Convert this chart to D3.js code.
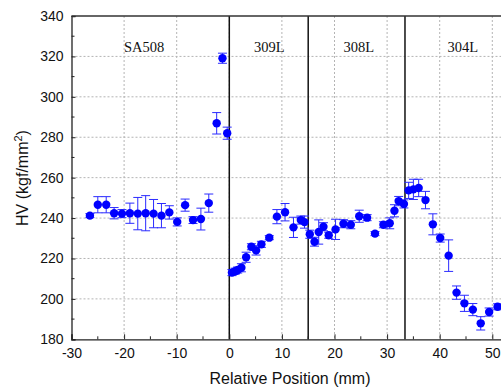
<!DOCTYPE html>
<html>
<head>
<meta charset="utf-8">
<script src="https://cdn.jsdelivr.net/npm/d3@7"></script>
<style>
  html, body { margin: 0; padding: 0; background: #fff; overflow: hidden; }
  svg { display: block; }
</style>
</head>
<body>
<svg id="chart" width="501" height="388"></svg>
<script>
// Microhardness traverse across the weld (SA508 / 309L / 308L / 304L)
const position = [
  -26.5, -25.0, -23.4, -21.9, -20.4, -18.9, -17.4, -15.9, -14.4, -12.9, -11.4, -9.9, -8.4, -6.9, -5.4, -3.9, -2.4, -1.3, -0.4,
  0.5, 1.1, 1.6, 2.3, 3.2, 4.2, 5.1, 6.1, 7.6, 9.05, 10.6, 12.2, 13.6, 14.3,
  15.3, 16.2, 17.0, 17.9, 18.9, 20.2, 21.7, 23.1, 24.7, 26.2, 27.7, 29.3, 30.5, 31.4, 32.2, 33.2,
  34.1, 35.0, 36.0, 37.3, 38.7, 40.1, 41.7, 43.2, 44.7, 46.3, 47.8, 49.4, 51.0
];
const hardness = [
  241.2, 246.6, 246.6, 242.4, 242.2, 242.4, 242.2, 242.4, 242.2, 241.2, 242.8, 238.1, 246.4, 239.0, 239.5, 247.4, 286.9, 319.1, 282.0,
  213.0, 213.7, 214.3, 215.4, 220.6, 225.8, 224.0, 227.0, 230.3, 240.7, 242.9, 235.4, 239.0, 238.0,
  232.0, 228.3, 233.1, 235.7, 231.5, 234.4, 237.2, 236.7, 240.9, 240.2, 232.3, 236.7, 237.4, 243.6, 248.4, 247.0,
  253.7, 254.2, 254.9, 248.9, 236.9, 230.1, 221.4, 203.1, 197.8, 194.7, 187.9, 193.5, 196.1
];
const hardnessErr = [
  1.0, 4.0, 4.0, 2.8, 2.0, 5.0, 8.0, 8.7, 7.0, 6.0, 3.3, 2.0, 3.0, 1.7, 5.4, 4.5, 5.3, 2.5, 3.0,
  1.5, 1.5, 1.5, 2.0, 2.5, 1.5, 2.3, 1.5, 1.0, 3.5, 4.3, 5.0, 2.0, 3.0,
  2.0, 2.2, 6.0, 2.0, 1.5, 5.0, 2.0, 2.0, 3.0, 1.5, 1.0, 1.5, 2.7, 3.0, 2.3, 2.0,
  4.0, 5.0, 4.3, 4.3, 5.2, 2.0, 7.8, 3.3, 4.0, 3.0, 3.3, 2.0, 1.5
];

// Zone boundaries (mm) and zone names
const boundaries = [0, 15, 33.4];
const zoneNames = ["SA508", "309L", "308L", "304L"];
const zoneLabelX = [-16.2, 7.6, 24.6, 44.4];

const xTicks = [-30, -20, -10, 0, 10, 20, 30, 40, 50];
const xMinorTicks = [-25, -15, -5, 5, 15, 25, 35, 45];
const yTicks = [180, 200, 220, 240, 260, 280, 300, 320, 340];
const yMinorTicks = [190, 210, 230, 250, 270, 290, 310, 330];

const svg = d3.select("#chart");
const plotLeft = 71.5, plotTop = 16, plotBottom = 339.3;

const x = d3.scaleLinear().domain([-30, 55]).range([plotLeft, plotLeft + 85 * 5.26]);
const y = d3.scaleLinear().domain([180, 340]).range([plotBottom, plotTop]);
const plotRight = x(55);

// grid
const grid = svg.append("g").attr("stroke", "#b4b4b4").attr("stroke-width", 1).attr("stroke-dasharray", "2,2");
xTicks.filter(t => t > -30).forEach(t => {
  grid.append("line").attr("x1", x(t)).attr("x2", x(t)).attr("y1", plotTop).attr("y2", plotBottom);
});
yTicks.filter(t => t > 180 && t < 340).forEach(t => {
  grid.append("line").attr("x1", plotLeft).attr("x2", plotRight).attr("y1", y(t)).attr("y2", y(t));
});

// zone boundary lines
svg.append("g").selectAll("line").data(boundaries).join("line")
  .attr("x1", d => x(d)).attr("x2", d => x(d))
  .attr("y1", plotTop).attr("y2", plotBottom)
  .attr("stroke", "#111").attr("stroke-width", 1.5);

// axes
const xAxis = d3.axisBottom(x).tickValues(xTicks).tickSize(-5).tickPadding(9).tickFormat(d3.format("d"));
const gx = svg.append("g").attr("transform", `translate(0,${plotBottom})`).call(xAxis);
gx.append("g").selectAll("line").data(xMinorTicks).join("line")
  .attr("x1", d => x(d)).attr("x2", d => x(d)).attr("y1", 0).attr("y2", -3).attr("stroke", "#222");

const yAxis = d3.axisLeft(y).tickValues(yTicks).tickSize(-4).tickPadding(8).tickFormat(d3.format("d"));
const gy = svg.append("g").attr("transform", `translate(${plotLeft},0)`).call(yAxis);
gy.append("g").selectAll("line").data(yMinorTicks).join("line")
  .attr("x1", 0).attr("x2", 3).attr("y1", d => y(d)).attr("y2", d => y(d)).attr("stroke", "#222");

[gx, gy].forEach(g => {
  g.select(".domain").attr("stroke", "#222").attr("stroke-width", 1.3);
  g.selectAll(".tick line").attr("stroke", "#222");
  g.selectAll("text").attr("font-family", "Liberation Sans, Arial, sans-serif").attr("font-size", 14).attr("fill", "#111");
});
gx.selectAll(".tick text").text(d => d < 0 ? "-" + Math.abs(d) : d);

// top frame line
svg.append("line").attr("x1", plotLeft).attr("x2", plotRight).attr("y1", plotTop).attr("y2", plotTop)
  .attr("stroke", "#333").attr("stroke-width", 1.5);

// zone labels
svg.append("g").selectAll("text").data(zoneNames).join("text")
  .attr("x", (d, i) => x(zoneLabelX[i])).attr("y", 51.5)
  .attr("text-anchor", "middle")
  .attr("font-family", "Liberation Serif, Times New Roman, serif").attr("font-size", 14.5).attr("fill", "#111")
  .text(d => d);

// error bars
const pts = position.map((p, i) => ({ p, h: hardness[i], e: hardnessErr[i] }));
const eb = svg.append("g").attr("stroke", "#2b2bff").attr("stroke-width", 1).attr("fill", "none");
pts.forEach(d => {
  const cx = x(d.p), y1 = y(d.h + d.e), y2 = y(d.h - d.e);
  eb.append("line").attr("x1", cx).attr("x2", cx).attr("y1", y1).attr("y2", y2);
  eb.append("line").attr("x1", cx - 4.5).attr("x2", cx + 4.5).attr("y1", y1).attr("y2", y1);
  eb.append("line").attr("x1", cx - 4.5).attr("x2", cx + 4.5).attr("y1", y2).attr("y2", y2);
});

// markers
svg.append("g").selectAll("circle").data(pts).join("circle")
  .attr("cx", d => x(d.p)).attr("cy", d => y(d.h)).attr("r", 4.2)
  .attr("fill", "#0000ff");

// axis titles
svg.append("text").attr("x", 290).attr("y", 384)
  .attr("text-anchor", "middle").attr("font-family", "Liberation Sans, Arial, sans-serif")
  .attr("font-size", 16).attr("fill", "#111").text("Relative Position (mm)");

const yt = svg.append("text").attr("transform", "translate(28,178) rotate(-90)")
  .attr("text-anchor", "middle").attr("font-family", "Liberation Sans, Arial, sans-serif")
  .attr("font-size", 16).attr("fill", "#111");
yt.append("tspan").text("HV (kgf/mm");
yt.append("tspan").attr("dy", -6).attr("font-size", 11).text("2");
yt.append("tspan").attr("dy", 6).text(")");
</script>
</body>
</html>
